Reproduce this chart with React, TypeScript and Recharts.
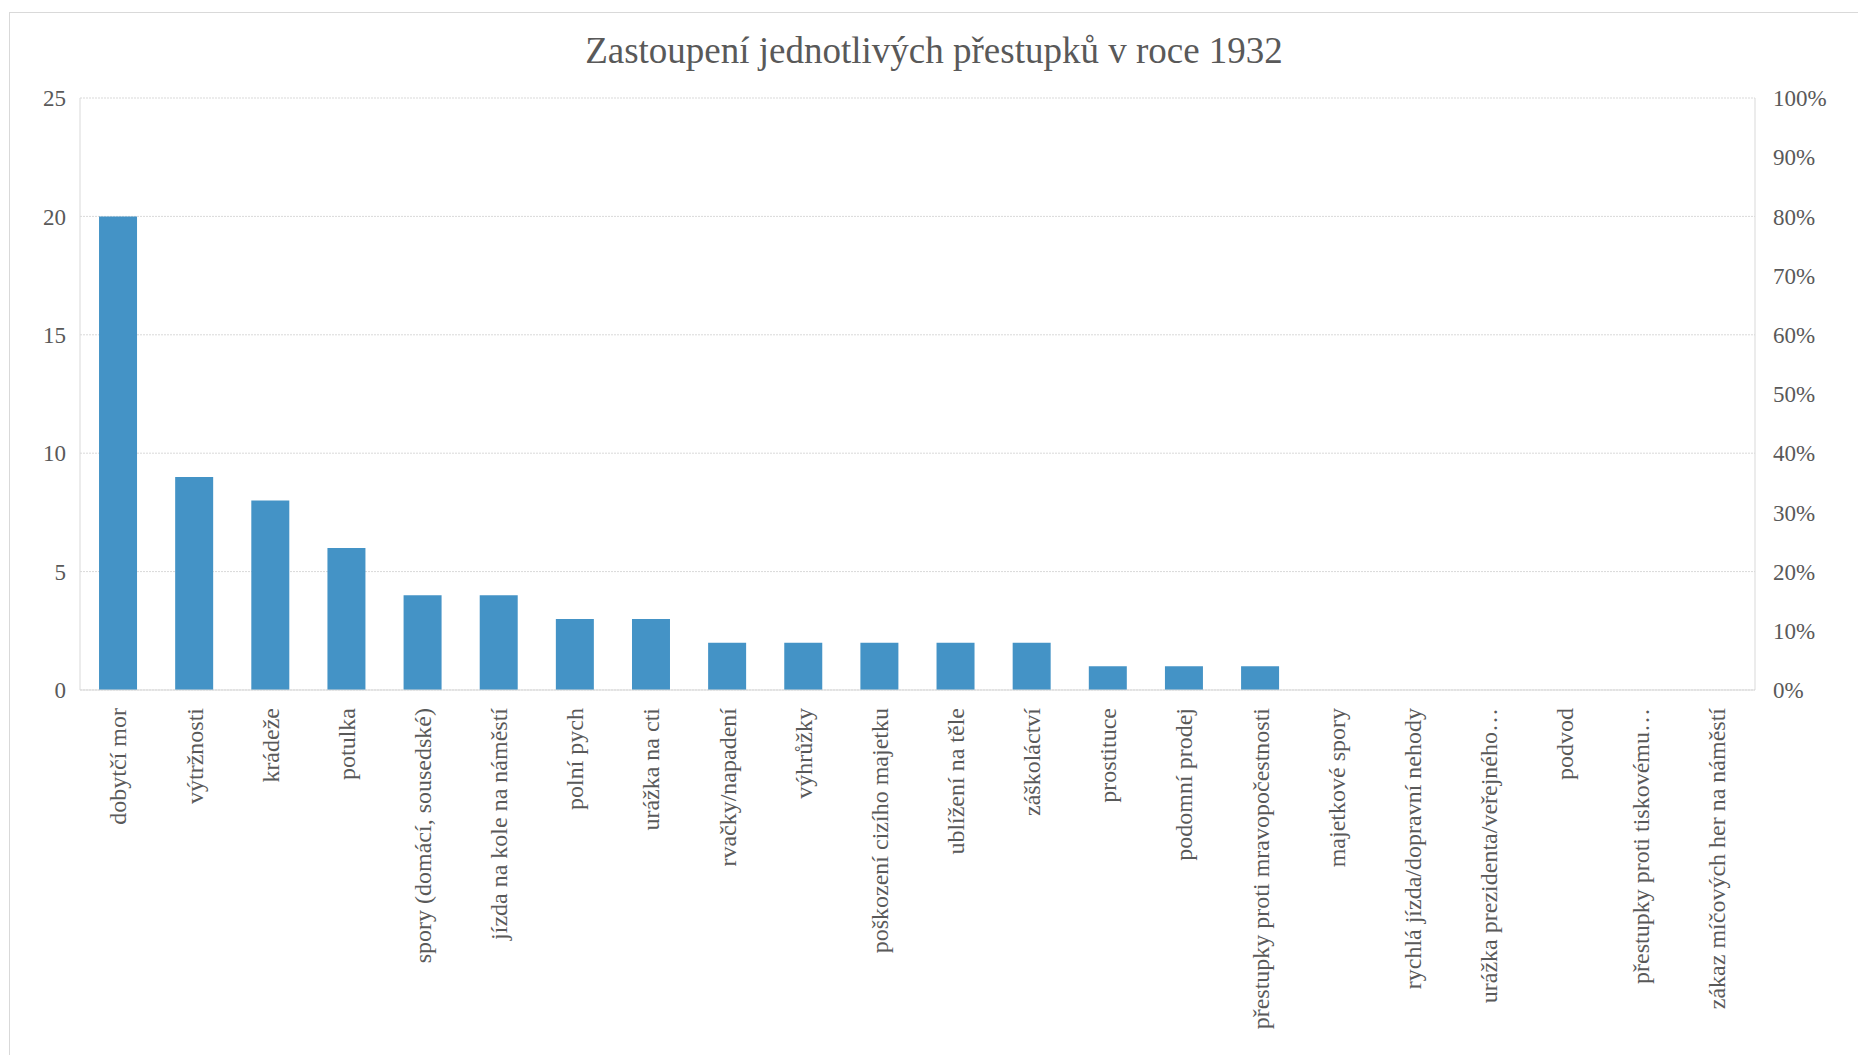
import { ComposedChart, Bar, Line, XAxis, YAxis, CartesianGrid } from "recharts";

const categories = [
    "dobytčí mor",
    "výtržnosti",
    "krádeže",
    "potulka",
    "spory (domácí, sousedské)",
    "jízda na kole na náměstí",
    "polní pych",
    "urážka na cti",
    "rvačky/napadení",
    "výhrůžky",
    "poškození cizího majetku",
    "ublížení na těle",
    "záškoláctví",
    "prostituce",
    "podomní prodej",
    "přestupky proti mravopočestnosti",
    "majetkové spory",
    "rychlá jízda/dopravní nehody",
    "urážka prezidenta/veřejného…",
    "podvod",
    "přestupky proti tiskovému…",
    "zákaz míčových her na náměstí",
];

const counts = [20, 9, 8, 6, 4, 4, 3, 3, 2, 2, 2, 2, 2, 1, 1, 1, 0, 0, 0, 0, 0, 0];

const leftTicks = [0, 5, 10, 15, 20, 25];
const rightTicks = [0, 0.1, 0.2, 0.3, 0.4, 0.5, 0.6, 0.7, 0.8, 0.9, 1];

const data = categories.map((name, i) => ({ name, count: counts[i] }));

const FONT = "Liberation Serif, Times New Roman, serif";
const TEXT = "#595959";
const GRID = "#d9d9d9";

const CategoryTick = (props: any) => {
    const { x, y, payload } = props;
    const ty = y + 10;
    return (
        <text
            x={x}
            y={ty}
            dy="0.35em"
            transform={`rotate(-90, ${x}, ${ty})`}
            textAnchor="end"
            fill={TEXT}
            fontSize={24}
            fontFamily={FONT}
        >
            {payload.value}
        </text>
    );
};

export default function App() {
    return (
        <div style={{ position: "absolute", left: 0, top: 0, width: 1858, height: 1055, background: "#fff", overflow: "hidden" }}>
            <div
                style={{
                    position: "absolute",
                    left: 9,
                    top: 12,
                    width: 1900,
                    height: 1100,
                    border: "1px solid #d9d9d9",
                }}
            />
            <div
                style={{
                    position: "absolute",
                    left: 0,
                    top: 29,
                    width: 1868,
                    textAlign: "center",
                    fontFamily: FONT,
                    fontSize: 37,
                    color: TEXT,
                }}
            >
                Zastoupení jednotlivých přestupků v roce 1932
            </div>
            <div style={{ position: "absolute", left: 0, top: 0 }}>
                <ComposedChart
                    width={1858}
                    height={1055}
                    data={data}
                    margin={{ top: 98, right: 13, bottom: 10, left: 10 }}
                    barCategoryGap="25%"
                >
                    <CartesianGrid vertical={false} stroke={GRID} strokeDasharray="2 1" yAxisId="left" />
                    <XAxis
                        dataKey="name"
                        interval={0}
                        height={355}
                        tick={<CategoryTick />}
                        tickLine={false}
                        axisLine={{ stroke: GRID }}
                    />
                    <YAxis
                        yAxisId="left"
                        width={70}
                        domain={[0, 25]}
                        ticks={leftTicks}
                        tickSize={0}
                        tickMargin={14}
                        axisLine={{ stroke: GRID }}
                        tick={{ fill: TEXT, fontSize: 23, fontFamily: FONT }}
                    />
                    <YAxis
                        yAxisId="right"
                        orientation="right"
                        width={90}
                        type="number"
                        domain={[0, 1]}
                        allowDataOverflow
                        ticks={rightTicks}
                        tickSize={0}
                        tickMargin={18}
                        axisLine={{ stroke: GRID }}
                        tickFormatter={(v: number) => `${Math.round(v * 100)}%`}
                        tick={{ fill: TEXT, fontSize: 23, fontFamily: FONT, textAnchor: "start" }}
                    />
                    <Bar yAxisId="left" dataKey="count" fill="#4493c6" isAnimationActive={false} />
                    <Line
                        yAxisId="right"
                        dataKey="count"
                        stroke="none"
                        dot={false}
                        activeDot={false}
                        legendType="none"
                        isAnimationActive={false}
                    />
                </ComposedChart>
            </div>
        </div>
    );
}
